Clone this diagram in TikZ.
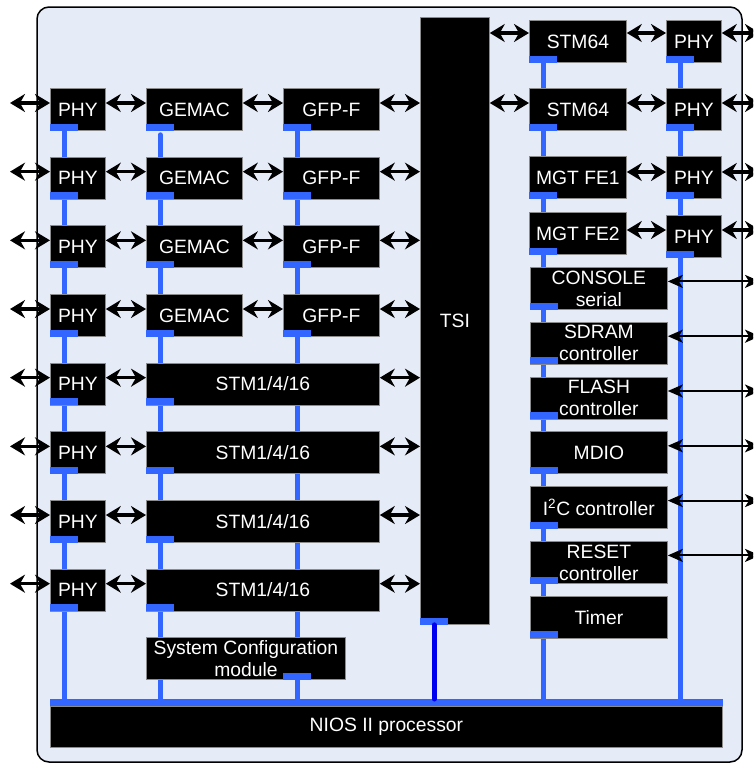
\documentclass[tikz,border=0pt]{standalone}
\usepackage{fontspec}
\setmainfont{Liberation Sans}
\usepackage{tikz}
\usetikzlibrary{arrows.meta, calc, backgrounds}
\definecolor{fondo}{RGB}{230,236,247}
\definecolor{bus}{RGB}{51,102,255}
\definecolor{azul}{RGB}{0,0,240}
\definecolor{borde}{RGB}{140,140,140}
\tikzset{
  caja/.style={fill=black, draw=borde, line width=0.8pt, text=white, inner sep=0pt, align=center, anchor=north west, font=\fontsize{19.3}{22}\selectfont},
  pestana/.style={fill=bus, inner sep=0pt, minimum width=28, minimum height=7, anchor=south west},
  gorda/.style={<->, >={Stealth[length=15pt,width=18pt,inset=5pt]}, line width=3.2pt},
  fina/.style={<->, >={Stealth[length=15pt,width=13pt,inset=4pt]}, line width=2pt},
  linea/.style={bus, line width=5pt},
}
\newcommand{\pest}[1]{\node[pestana] (t#1) at (#1.south west) {};}

\begin{document}
\begin{tikzpicture}[x=1pt, y=-1pt]
  \useasboundingbox (0,0) rectangle (753,763);
  \clip (0,0) rectangle (753,763);
  \coordinate (der) at (760,0);
  % filas de la izquierda
  \foreach \k in {1,...,8}{
    \pgfmathsetmacro\yy{88+68.67*(\k-1)}
    \node[caja, minimum width=55, minimum height=42] (phy\k) at (50,\yy) {PHY};
    \pest{phy\k}
    \coordinate (e\k) at (10,\yy+15);
  }
  \foreach \k in {1,...,4}{
    \pgfmathsetmacro\yy{88+68.67*(\k-1)}
    \node[caja, minimum width=96, minimum height=42] (m\k) at (146,\yy) {GEMAC};
    \pest{m\k}
    \node[caja, minimum width=96, minimum height=42, alias=r\k] (f\k) at (283,\yy) {GFP-F};
    \pest{f\k}
  }
  \foreach \k in {5,...,8}{
    \pgfmathsetmacro\yy{88+68.67*(\k-1)}
    \node[caja, minimum width=233, minimum height=42, alias=r\k] (m\k) at (146,\yy) {STM1/4/16};
    \pest{m\k}
  }
  \node[caja, minimum width=69, minimum height=607] (tsi) at (420,17) {TSI};
  \pest{tsi}
  \node[caja, minimum width=199, minimum height=42] (sc) at (146,637) {System Configuration\\module};
  \node[pestana] (tsc) at ($(sc.south west)+(137,0)$) {};
  \node[caja, minimum width=672, minimum height=41] (nios) at (50,706) {NIOS II processor};
  \fill[bus] ($(nios.north west)+(0,-7)$) coordinate (barra) rectangle (nios.north east);
  % columna derecha
  \node[caja, minimum width=97, minimum height=42] (s1) at (529,20) {STM64};
  \node[caja, minimum width=97, minimum height=42] (s2) at (529,88) {STM64};
  \node[caja, minimum width=97, minimum height=42] (g1) at (529,156) {MGT FE1};
  \node[caja, minimum width=97, minimum height=42] (g2) at (529,212) {MGT FE2};
  \foreach \n in {s1,s2,g1,g2} {\pest{\n}}
  \foreach \k/\yy in {1/20,2/88,3/156,4/215}{
    \node[caja, minimum width=55, minimum height=42] (q\k) at (666,\yy) {PHY};
    \pest{q\k}
  }
  \foreach \n/\txt [count=\i from 0] in {con/{CONSOLE\\serial}, sdram/{SDRAM\\controller}, flash/{FLASH\\controller}, mdio/MDIO, iic/{I\textsuperscript{2}C controller}, reset/{RESET\\controller}, timer/Timer}{
    \node[caja, minimum width=137, minimum height=42] (\n) at (530,267+54.8*\i) {\txt};
    \pest{\n}
  }
  % flechas
  \foreach \k in {1,...,8}{
    \draw[gorda] (e\k) -- (e\k -| phy\k.west);
    \draw[gorda] (phy\k.east |- e\k) -- (m\k.west |- e\k);
    \draw[gorda] (r\k.east |- e\k) -- (tsi.west |- e\k);
  }
  \foreach \k in {1,...,4} \draw[gorda] (m\k.east |- e\k) -- (f\k.west |- e\k);
  \coordinate (y1) at (0,33);
  \coordinate (y2) at (0,103);
  \coordinate (y3) at (0,172);
  \coordinate (y4) at (0,230);
  \draw[gorda] (tsi.east |- y1) -- (s1.west |- y1);
  \draw[gorda] (tsi.east |- y2) -- (s2.west |- y2);
  \draw[gorda] (s1.east |- y1) -- (q1.west |- y1);
  \draw[gorda] (s2.east |- y2) -- (q2.west |- y2);
  \draw[gorda] (g1.east |- y3) -- (q3.west |- y3);
  \draw[gorda] (g2.east |- y4) -- (q4.west |- y4);
  \foreach \k in {1,...,4} \draw[gorda] (q\k.east |- y\k) -- (der |- y\k);
  \foreach \n in {con,sdram,flash,mdio,iic,reset}{
    \path ($(\n.east)+(0,-7)$) coordinate (a\n);
    \draw[fina] (a\n) -- (a\n -| der);
  }
  \draw[azul, line width=5pt, line cap=round] (ttsi.south) -- (ttsi.south |- barra);
  \begin{pgfonlayer}{background}
    \draw[fill=fondo, line width=1.5pt, rounded corners=12] (37,7) rectangle (742,762);
    \draw[linea] (tphy1.center) -- (tphy1.center |- barra);
    \draw[linea, line cap=round] ($(tm1.south)+(0,4)$) -- (tm1.south |- barra);
    \foreach \n in {f1,s1,q1} \draw[linea] (t\n.center) -- (t\n.center |- barra);
  \end{pgfonlayer}
\end{tikzpicture}
\end{document}
